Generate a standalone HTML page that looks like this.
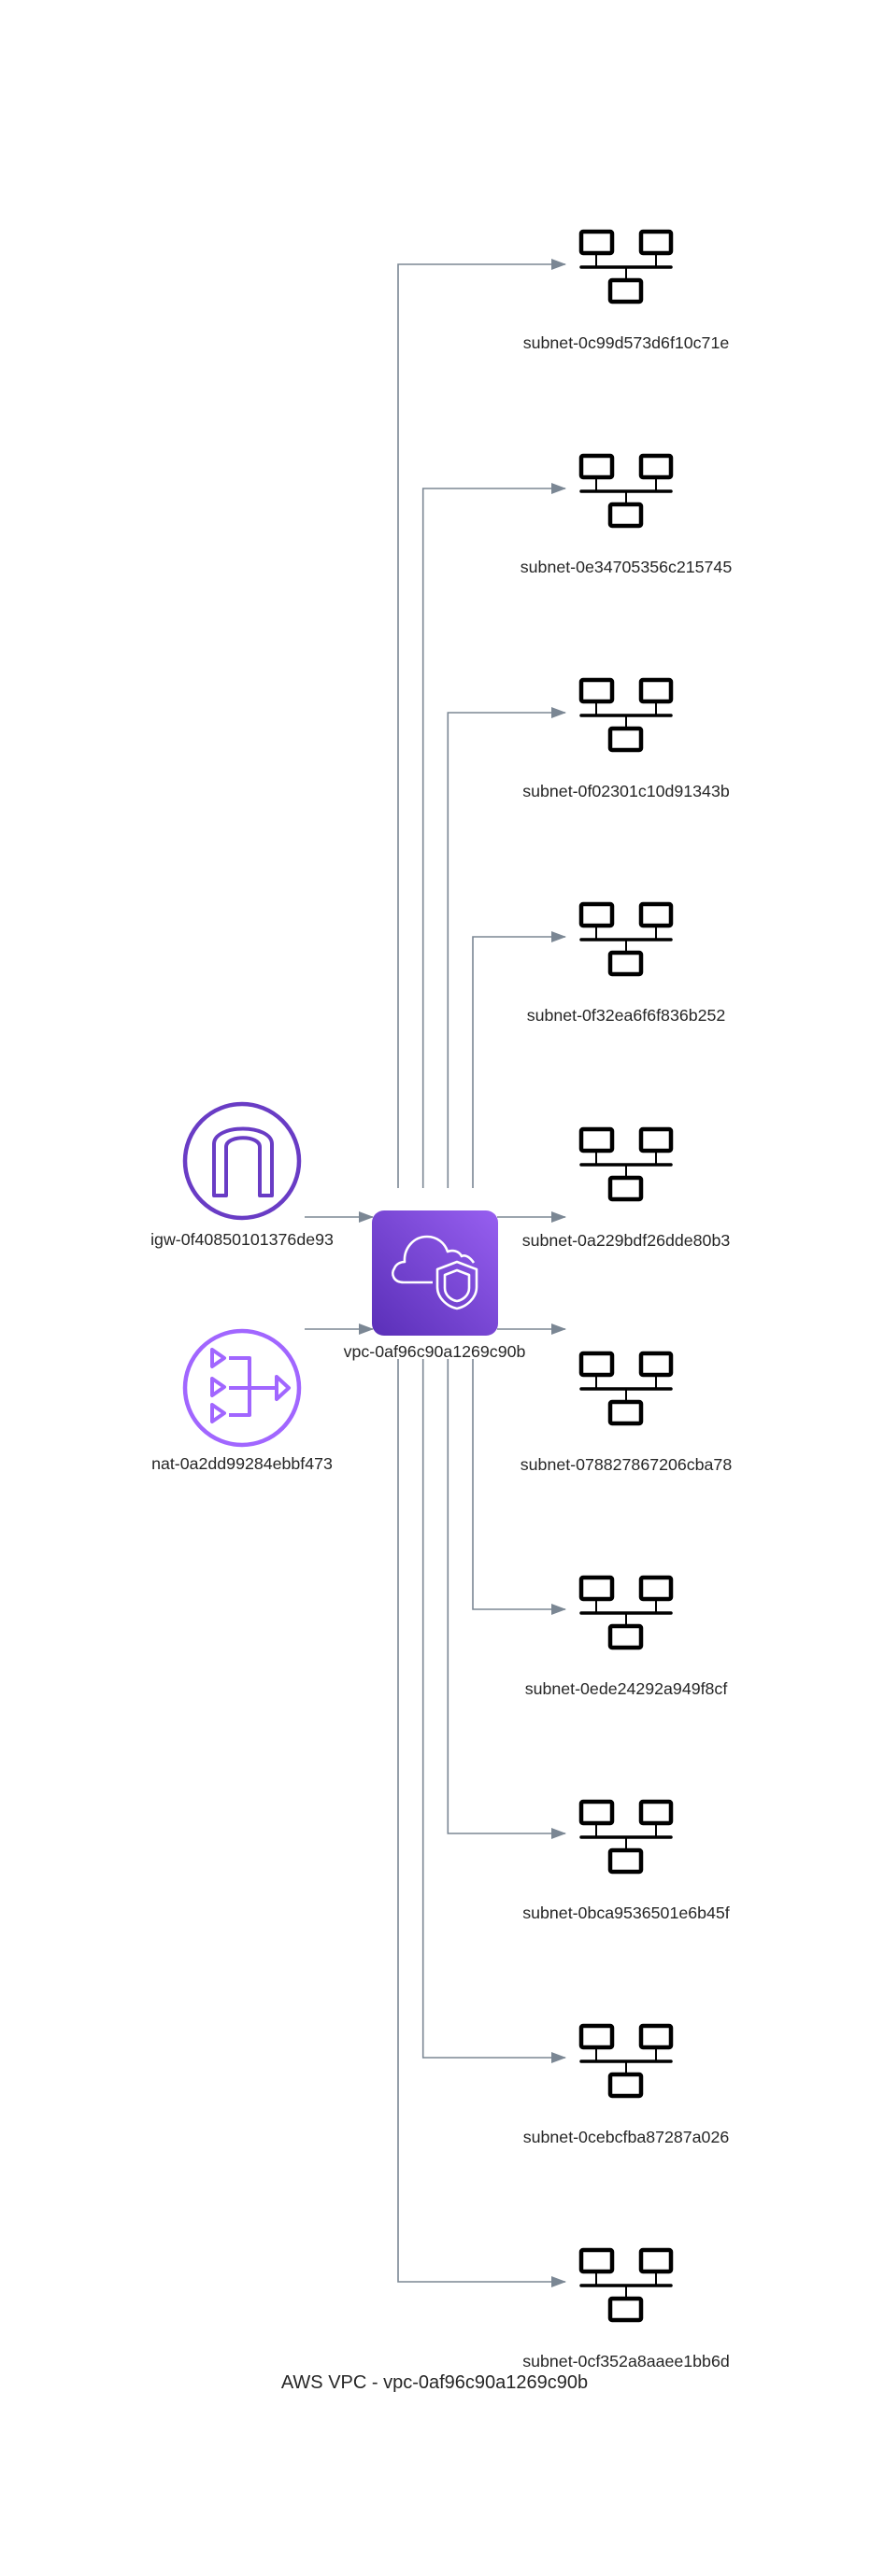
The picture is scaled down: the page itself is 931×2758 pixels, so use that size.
<!DOCTYPE html>
<html><head><meta charset="utf-8"><style>
html,body{margin:0;padding:0;background:#fff}
svg{display:block}
text{font-family:"Liberation Sans",Arial,sans-serif;fill:#262626}
</style></head><body>
<svg width="931" height="2758" viewBox="0 0 931 2758" xmlns="http://www.w3.org/2000/svg">
<defs>
<marker id="ah" markerWidth="16" markerHeight="12" refX="15" refY="6" orient="auto" markerUnits="userSpaceOnUse">
<path d="M0,0 L16,6 L0,12 Z" fill="#7b8794"/>
</marker>
<linearGradient id="vg" x1="0" y1="1" x2="1" y2="0">
<stop offset="0" stop-color="#5a2fb8"/><stop offset="1" stop-color="#975ff0"/>
</linearGradient>
<g id="sn" fill="none" stroke="#000">
<rect x="2" y="2" width="33" height="23" rx="2" stroke-width="4.5"/>
<rect x="66" y="2" width="32" height="23" rx="2" stroke-width="4.5"/>
<path d="M18,27 V40 M82,27 V40 M50,40 V53" stroke-width="2"/>
<path d="M2,40 H98" stroke-width="3.5" stroke-linecap="round"/>
<rect x="33" y="54" width="33" height="23" rx="2" stroke-width="4.5"/>
</g>
</defs>
<g fill="none" stroke="#7b8794" stroke-width="1.6">
<path d="M426,1272 V283 H605" marker-end="url(#ah)"/>
<path d="M452.7,1272 V523 H605" marker-end="url(#ah)"/>
<path d="M479.3,1272 V763 H605" marker-end="url(#ah)"/>
<path d="M506,1272 V1003 H605" marker-end="url(#ah)"/>
<path d="M532,1303 H605" marker-end="url(#ah)"/>
<path d="M532,1423 H605" marker-end="url(#ah)"/>
<path d="M506,1455 V1723 H605" marker-end="url(#ah)"/>
<path d="M479.3,1455 V1963 H605" marker-end="url(#ah)"/>
<path d="M452.7,1455 V2203 H605" marker-end="url(#ah)"/>
<path d="M426,1455 V2443 H605" marker-end="url(#ah)"/>
<path d="M326,1303 H399" marker-end="url(#ah)"/>
<path d="M326,1423 H399" marker-end="url(#ah)"/>
</g>
<use href="#sn" x="620" y="246"/>
<use href="#sn" x="620" y="486"/>
<use href="#sn" x="620" y="726"/>
<use href="#sn" x="620" y="966"/>
<use href="#sn" x="620" y="1207"/>
<use href="#sn" x="620" y="1447"/>
<use href="#sn" x="620" y="1687"/>
<use href="#sn" x="620" y="1927"/>
<use href="#sn" x="620" y="2167"/>
<use href="#sn" x="620" y="2407"/>
<g font-size="17.8" text-anchor="middle">
<text x="670" y="373">subnet-0c99d573d6f10c71e</text>
<text x="670" y="613">subnet-0e34705356c215745</text>
<text x="670" y="853">subnet-0f02301c10d91343b</text>
<text x="670" y="1093">subnet-0f32ea6f6f836b252</text>
<text x="670" y="1334">subnet-0a229bdf26dde80b3</text>
<text x="670" y="1574">subnet-078827867206cba78</text>
<text x="670" y="1814">subnet-0ede24292a949f8cf</text>
<text x="670" y="2054">subnet-0bca9536501e6b45f</text>
<text x="670" y="2294">subnet-0cebcfba87287a026</text>
<text x="670" y="2534">subnet-0cf352a8aaee1bb6d</text>
<text x="465" y="1453">vpc-0af96c90a1269c90b</text>
<text x="259" y="1333">igw-0f40850101376de93</text>
<text x="259" y="1573">nat-0a2dd99284ebbf473</text>
</g>
<text x="465" y="2557" font-size="20" text-anchor="middle">AWS VPC - vpc-0af96c90a1269c90b</text>
<!-- VPC -->
<rect x="398" y="1296" width="135" height="134" rx="13" fill="url(#vg)"/>
<g fill="none" stroke="#fff" stroke-width="2.6" stroke-linejoin="round">
<path d="M463,1373 H432 C421,1373 418,1364 422,1358 C424,1353 429,1351 433,1351 C432,1337 442,1324 457,1324 C468,1324 476,1331 479,1340 C484,1338 491,1339 494,1345 C498,1343 503,1346 507,1352"/>
<path d="M489,1351 L468,1359 V1378 C468,1390 479,1399 489,1401 C499,1399 510,1390 510,1378 V1359 Z"/>
<path d="M489,1360 L476,1365 V1379 C476,1387 483,1392 489,1393 C495,1392 502,1387 502,1379 V1365 Z"/>
</g>
<!-- IGW -->
<circle cx="259" cy="1243" r="61" fill="none" stroke="#693cc5" stroke-width="4.5"/>
<path d="M229,1280 V1225 C229,1203 291,1203 291,1225 V1280 H278 V1228 C278,1215 242,1215 242,1228 V1280 Z" fill="none" stroke="#693cc5" stroke-width="4" stroke-linejoin="round"/>
<!-- NAT -->
<circle cx="259" cy="1486" r="61" fill="none" stroke="#a166ff" stroke-width="4.5"/>
<g fill="none" stroke="#a166ff" stroke-width="4" stroke-linejoin="round">
<path d="M227,1445 L240,1454 L227,1463 Z"/>
<path d="M227,1476 L240,1485 L227,1494 Z"/>
<path d="M227,1504 L240,1513 L227,1522 Z"/>
<path d="M296,1474 L309,1486 L296,1498 Z"/>
<path d="M245,1454 H267 V1515 H245 M245,1486 H296"/>
</g>
</svg>
</body></html>
